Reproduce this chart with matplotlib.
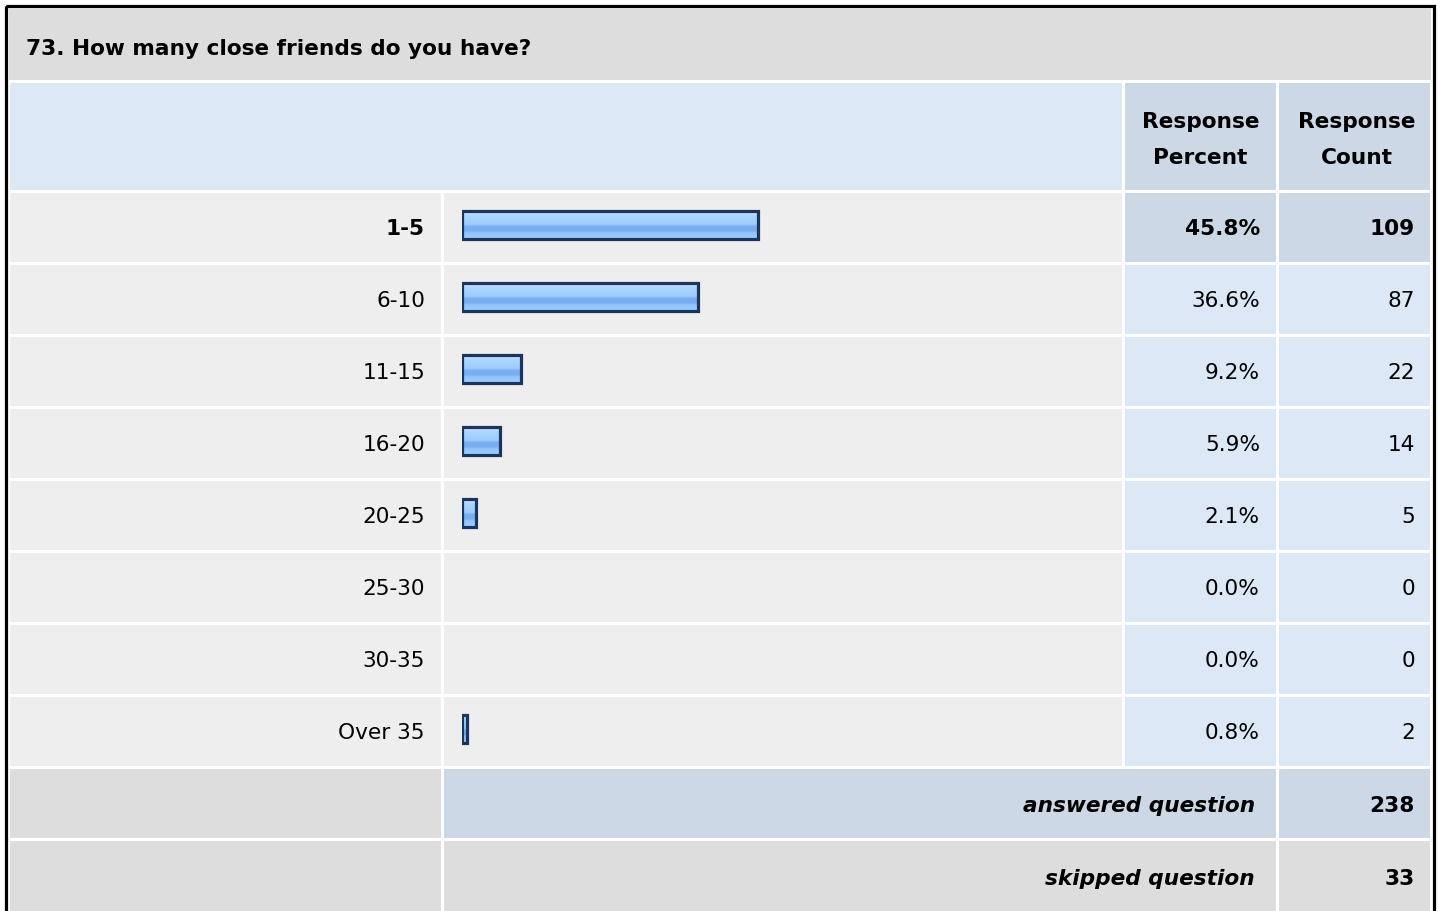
import numpy as np
import matplotlib
matplotlib.use("Agg")
import matplotlib.pyplot as plt
from matplotlib.patches import Rectangle
from matplotlib.colors import LinearSegmentedColormap

TITLE = "73. How many close friends do you have?"
CATEGORIES = ["1-5", "6-10", "11-15", "16-20", "20-25", "25-30", "30-35", "Over 35"]
PERCENTS = [45.8, 36.6, 9.2, 5.9, 2.1, 0.0, 0.0, 0.8]
COUNTS = [109, 87, 22, 14, 5, 0, 0, 2]
ANSWERED = 238
SKIPPED = 33

W, H = 1440, 911
FONT = "DejaVu Sans"
FS = 15.6

GRAY = "#dddddd"
ROW_BG = "#eeeeee"
BLUE_LT = "#dce8f5"
BLUE_DK = "#ccd8e6"

# column edges (pixels)
C_LAB = (10, 441)
C_BAR = (444, 1122)
C_PCT = (1125, 1276)
C_CNT = (1279, 1430)
ROW0, ROW_H, PITCH = 193, 69, 72

fig = plt.figure(figsize=(W / 100, H / 100), dpi=100)
fig.patch.set_facecolor("white")
ax = fig.add_axes([0, 0, 1, 1])
ax.set_xlim(0, W)
ax.set_ylim(H, 0)
ax.axis("off")


def cell(x0, x1, y0, y1, color):
    ax.add_patch(Rectangle((x0, y0), x1 - x0, y1 - y0, facecolor=color, edgecolor="none"))


def txt(x, y, s, ha="left", weight="normal", style="normal"):
    ax.text(x, y + 1.5, s, ha=ha, va="center", fontsize=FS, family=FONT,
            fontweight=weight, fontstyle=style, color="#000000")


# outer frame
ax.add_patch(Rectangle((5.5, 5.5), 1428.5, 920, facecolor="none", edgecolor="black", lw=2.3))

# title row
cell(9, 1431, 8, 80, GRAY)
txt(26, 47.5, TITLE, weight="bold")

# header row
cell(C_LAB[0], C_BAR[1], 83, 190, BLUE_LT)
cell(*C_PCT, 83, 190, BLUE_DK)
cell(*C_CNT, 83, 190, BLUE_DK)
txt((C_PCT[0] + C_PCT[1]) / 2, 120, "Response", ha="center", weight="bold")
txt((C_PCT[0] + C_PCT[1]) / 2, 157, "Percent", ha="center", weight="bold")
txt((C_CNT[0] + C_CNT[1]) / 2 + 2, 120, "Response", ha="center", weight="bold")
txt((C_CNT[0] + C_CNT[1]) / 2 + 2, 157, "Count", ha="center", weight="bold")

# data rows
top_i = int(np.argmax(COUNTS))
for i, (cat, pct, cnt) in enumerate(zip(CATEGORIES, PERCENTS, COUNTS)):
    y0 = ROW0 + i * PITCH
    y1 = y0 + ROW_H
    yc = (y0 + y1) / 2
    bold = "bold" if i == top_i else "normal"
    cell(*C_LAB, y0, y1, ROW_BG)
    cell(*C_BAR, y0, y1, ROW_BG)
    cell(*C_PCT, y0, y1, BLUE_DK if i == top_i else BLUE_LT)
    cell(*C_CNT, y0, y1, BLUE_DK if i == top_i else BLUE_LT)
    txt(425, yc, cat, ha="right", weight=bold)
    txt(1260, yc, f"{pct:.1f}%", ha="right", weight=bold)
    txt(1415, yc, str(cnt), ha="right", weight=bold)

# footer rows
fy0 = ROW0 + len(CATEGORIES) * PITCH
cell(*C_LAB, fy0, fy0 + ROW_H, GRAY)
cell(C_BAR[0], C_PCT[1], fy0, fy0 + ROW_H, BLUE_DK)
cell(*C_CNT, fy0, fy0 + ROW_H, BLUE_DK)
txt(1255, fy0 + ROW_H / 2 + 1.5, "answered question", ha="right", weight="bold", style="italic")
txt(1415, fy0 + ROW_H / 2 + 1.5, str(ANSWERED), ha="right", weight="bold")
sy0 = fy0 + PITCH
cell(*C_LAB, sy0, H + 5, GRAY)
cell(C_BAR[0], C_PCT[1], sy0, H + 5, GRAY)
cell(*C_CNT, sy0, H + 5, GRAY)
txt(1255, sy0 + ROW_H / 2 + 2, "skipped question", ha="right", weight="bold", style="italic")
txt(1415, sy0 + ROW_H / 2 + 2, str(SKIPPED), ha="right", weight="bold")

# bar axes: 1 percent = 6.46 px
bx0, bpx = 462, 646
by0 = 189
bax = fig.add_axes([bx0 / W, 1 - (by0 + PITCH * len(CATEGORIES)) / H,
                    bpx / W, PITCH * len(CATEGORIES) / H])
bax.axis("off")
bax.patch.set_alpha(0)

grad = LinearSegmentedColormap.from_list("bar", [
    (0.0, "#d2e8ff"), (0.1, "#c4e2ff"), (0.2, "#a9d4ff"), (0.5, "#9dccff"),
    (0.56, "#7aaff2"), (0.72, "#78adf0"), (0.78, "#8fc3fd"), (1.0, "#9fcfff")])
gimg = np.linspace(0, 1, 64).reshape(-1, 1)

ypos = np.arange(len(CATEGORIES))
bars = bax.barh(ypos, PERCENTS, height=0.39, color="none", edgecolor="#1b3560",
                linewidth=2.3)
for b, pct in zip(bars, PERCENTS):
    if pct <= 0:
        b.set_visible(False)
        continue
    x, y = b.get_x(), b.get_y()
    im = bax.imshow(gimg, cmap=grad, aspect="auto", interpolation="bilinear",
                    extent=(x, x + b.get_width(), y + b.get_height(), y), zorder=1)
    im.set_clip_path(b)
    b.set_zorder(2)
bax.set_xlim(0, 100)
bax.set_ylim(len(CATEGORIES) - 0.5, -0.5)

fig.savefig("out.png", dpi=100, facecolor="white")
